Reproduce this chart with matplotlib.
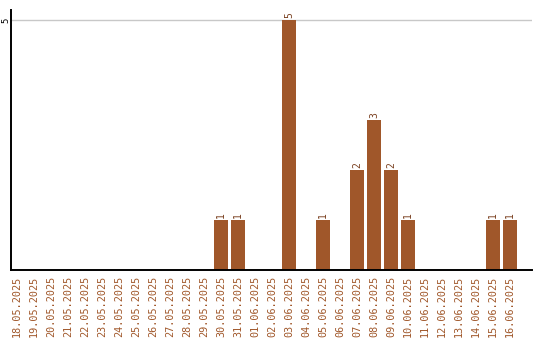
import matplotlib
matplotlib.use('Agg')
import matplotlib.pyplot as plt
import numpy as np

dates = ['18.05.2025', '19.05.2025', '20.05.2025', '21.05.2025', '22.05.2025',
         '23.05.2025', '24.05.2025', '25.05.2025', '26.05.2025', '27.05.2025',
         '28.05.2025', '29.05.2025', '30.05.2025', '31.05.2025', '01.06.2025',
         '02.06.2025', '03.06.2025', '04.06.2025', '05.06.2025', '06.06.2025',
         '07.06.2025', '08.06.2025', '09.06.2025', '10.06.2025', '11.06.2025',
         '12.06.2025', '13.06.2025', '14.06.2025', '15.06.2025', '16.06.2025']
counts = [0, 0, 0, 0, 0, 0, 0, 0, 0, 0, 0, 0, 1, 1, 0,
          0, 5, 0, 1, 0, 2, 3, 2, 1, 0, 0, 0, 0, 1, 1]

bar_color = '#A0572A'
text_color = '#A0572A'
mono = 'DejaVu Sans Mono'

fig = plt.figure(figsize=(5.4, 3.4), dpi=100)
ax = fig.add_axes([11 / 540, 70 / 340, 521 / 540, 260 / 340])

x = np.arange(len(dates))
ax.bar(x, counts, width=0.82, color=bar_color, zorder=2)

for xi, c in zip(x, counts):
    if c > 0:
        ax.text(xi, c + 0.04, str(c), rotation=90, ha='center', va='bottom',
                fontsize=7, family=mono, color='#7A4020')

ax.set_xlim(-0.35, 30.3)
ax.set_ylim(0, 5.2)
ax.set_yticks([5])
ax.set_yticklabels(['5'], rotation=90, va='center', family=mono, fontsize=6.5)
ax.yaxis.grid(True, color='#c8c8c8', linewidth=1, zorder=0)
ax.tick_params(axis='y', length=0, pad=0.5)

ax.set_xticks(x)
ax.set_xticklabels(dates, rotation=90, family=mono, fontsize=7.3, color=text_color)
ax.tick_params(axis='x', length=0, pad=4)

ax.spines['top'].set_visible(False)
ax.spines['right'].set_visible(False)
ax.spines['left'].set_color('black')
ax.spines['bottom'].set_color('black')
ax.spines['left'].set_linewidth(1.4)
ax.spines['bottom'].set_linewidth(1.4)

fig.savefig('out.png', dpi=100)
